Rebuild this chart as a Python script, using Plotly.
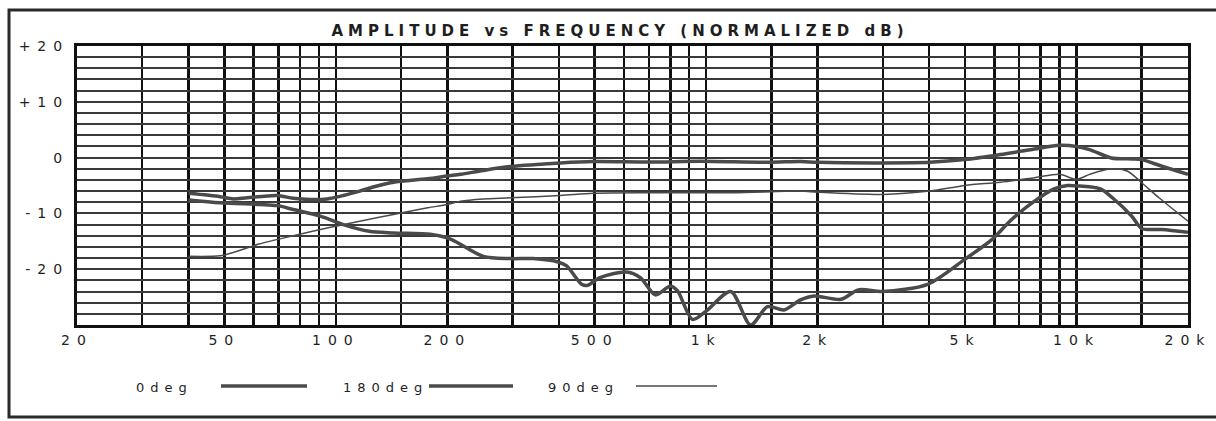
import plotly.graph_objects as go

# ---------------- data ----------------
freq_0deg = [40, 48.7, 52.8, 57.6, 69.4, 76.7, 85.3, 94.7, 104.7, 116, 129, 143, 176.6, 200, 217,
             250, 296, 404, 496, 707, 961, 1464, 1798, 2000, 3000, 4014, 5000, 6230, 7700, 9000,
             10000, 10850, 12400, 14160, 15000, 17000, 20000]
db_0deg = [-6.4, -7.0, -7.4, -7.2, -6.8, -7.3, -7.5, -7.4, -6.8, -6.0, -5.1, -4.4, -3.8, -3.3, -3.0,
           -2.3, -1.6, -0.95, -0.7, -0.8, -0.66, -0.84, -0.7, -0.84, -0.95, -0.84, -0.36, 0.54, 1.55, 2.2,
           2.0, 1.43, -0.06, -0.24, -0.36, -1.55, -3.0]

freq_180deg = [40, 48.7, 62.3, 69.4, 76.7, 90.8, 104.7, 123, 143, 180, 204, 250, 296, 341, 398, 420,
               461, 478, 517, 608, 664, 729, 801, 837, 919, 1000, 1165, 1318, 1464, 1623, 1798, 1955,
               2314, 2577, 3000, 3963, 5000, 5930, 6680, 7700, 8700, 9450, 10200, 11600, 12500, 14100,
               15000, 17000, 20000]
db_180deg = [-7.6, -8.1, -8.4, -8.6, -9.3, -10.5, -12.0, -13.2, -13.5, -13.75, -14.6, -17.7, -18.1, -18.1,
             -18.7, -19.4, -22.7, -22.9, -21.5, -20.5, -21.5, -24.6, -23.0, -23.9, -29.0, -27.5, -24.0,
             -30.0, -26.7, -27.3, -25.5, -24.8, -25.4, -23.7, -24.0, -22.7, -18.2, -14.6, -11.1, -7.8,
             -5.6, -5.0, -5.1, -5.6, -7.2, -10.5, -12.7, -12.9, -13.4]

freq_90deg = [40, 48.7, 52.8, 62, 76.7, 94.7, 116, 143, 177, 200, 217, 250, 296, 404, 496, 707, 1184,
              1798, 2000, 3000, 4014, 5000, 6230, 7700, 9000, 10000, 10850, 12400, 13700, 15000, 16700,
              20000]
db_90deg = [-17.7, -17.6, -17.0, -15.5, -14.0, -12.6, -11.4, -10.2, -9.0, -8.4, -7.8, -7.4, -7.2, -6.8,
            -6.4, -6.3, -6.3, -6.0, -6.2, -6.6, -6.0, -5.0, -4.4, -3.6, -3.0, -3.9, -3.0, -2.0, -2.4,
            -4.5, -7.2, -11.4]

x_grid = [20, 30, 40, 50, 60, 70, 80, 90, 100, 150, 200, 300, 400, 500, 600, 700, 800, 900, 1000,
          1500, 2000, 3000, 4000, 5000, 6000, 7000, 8000, 9000, 10000, 15000, 20000]
x_labels = {20: "20", 50: "50", 100: "100", 200: "200", 500: "500", 1000: "1k", 2000: "2k",
            5000: "5k", 10000: "10k", 20000: "20k"}
y_grid = list(range(-30, 21, 2))
y_labels = {20: "+20", 10: "+10", 0: "0", -10: "-10", -20: "-20"}

title_text = "AMPLITUDE vs FREQUENCY (NORMALIZED dB)"
series_names = ["0deg", "180deg", "90deg"]

# ---------------- figure ----------------
curve_color = "#4a4a4a"
font_family = "DejaVu Sans"

fig = go.Figure()
fig.add_trace(go.Scatter(x=freq_0deg, y=db_0deg, mode="lines", name=series_names[0],
                         line=dict(color=curve_color, width=3.5, shape="spline", smoothing=0.8)))
fig.add_trace(go.Scatter(x=freq_180deg, y=db_180deg, mode="lines", name=series_names[1],
                         line=dict(color=curve_color, width=3.5, shape="spline", smoothing=0.8)))
fig.add_trace(go.Scatter(x=freq_90deg, y=db_90deg, mode="lines", name=series_names[2],
                         line=dict(color=curve_color, width=1.5, shape="spline", smoothing=0.8)))

W, H = 1216, 421
L, R, T, B = 77, 28, 46, 96
pw, ph = W - L - R, H - T - B


def px_x(px):
    return (px - L) / pw


def px_y(py):
    return (H - B - py) / ph


fig.update_layout(
    width=W, height=H,
    margin=dict(l=L, r=R, t=T, b=B),
    paper_bgcolor="white", plot_bgcolor="white",
    showlegend=False,
    hovermode=False,
    font=dict(family=font_family, color="#1e1e1e", size=14),
    title=dict(text=title_text, x=px_x(620), xref="paper", xanchor="center",
               y=1 - 31 / H, yref="container", yanchor="middle",
               font=dict(family=font_family, size=15, color="#1e1e1e", weight="bold")),
    xaxis=dict(type="log", range=[1.30103, 4.30103],
               tickvals=x_grid, ticktext=[x_labels.get(v, "") for v in x_grid],
               showgrid=True, gridcolor="#111111", gridwidth=2.5,
               showline=True, linecolor="#111111", linewidth=3, mirror=True,
               ticks="", zeroline=False, tickfont=dict(size=14, color="#1e1e1e")),
    yaxis=dict(range=[-30, 20],
               tickvals=y_grid, ticktext=[y_labels.get(v, "") for v in y_grid],
               showgrid=True, gridcolor="#3a3a3a", gridwidth=2,
               showline=True, linecolor="#111111", linewidth=3, mirror=True,
               ticks="", zeroline=False, ticklabelstandoff=2,
               tickfont=dict(size=14, color="#1e1e1e")),
)

# outer frame
fig.add_shape(type="rect", xref="paper", yref="paper",
              x0=px_x(9), x1=px_x(1225), y0=px_y(417), y1=px_y(10),
              line=dict(color="#2a2a2a", width=3), layer="below")

# legend: text followed by a line sample
legend_items = [
    (series_names[0], 161, 221, 307, 3.5),
    (series_names[1], 382, 429, 513, 3.5),
    (series_names[2], 580, 636, 717, 1.5),
]
for name, tx, lx0, lx1, lw in legend_items:
    fig.add_annotation(text=name, xref="paper", yref="paper", x=px_x(tx + 3), y=px_y(387),
                       xanchor="center", yanchor="middle", showarrow=False,
                       font=dict(family=font_family, size=13, color="#1e1e1e"))
    fig.add_shape(type="line", xref="paper", yref="paper",
                  x0=px_x(lx0), x1=px_x(lx1), y0=px_y(386), y1=px_y(386),
                  line=dict(color=curve_color, width=lw))

post = """
document.body.style.margin='0';
var gd=document.getElementById('{plot_id}');
function sp(){
 gd.querySelectorAll('.xtick text, .ytick text').forEach(function(e){e.style.letterSpacing='7px';});
 gd.querySelectorAll('.gtitle').forEach(function(e){e.style.letterSpacing='5px';});
 gd.querySelectorAll('.annotation-text').forEach(function(e){e.style.letterSpacing='6px';});
}
sp();
gd.on('plotly_afterplot', sp);
"""

fig.write_html("out.html", post_script=post,
               config={"displayModeBar": False, "staticPlot": True})
